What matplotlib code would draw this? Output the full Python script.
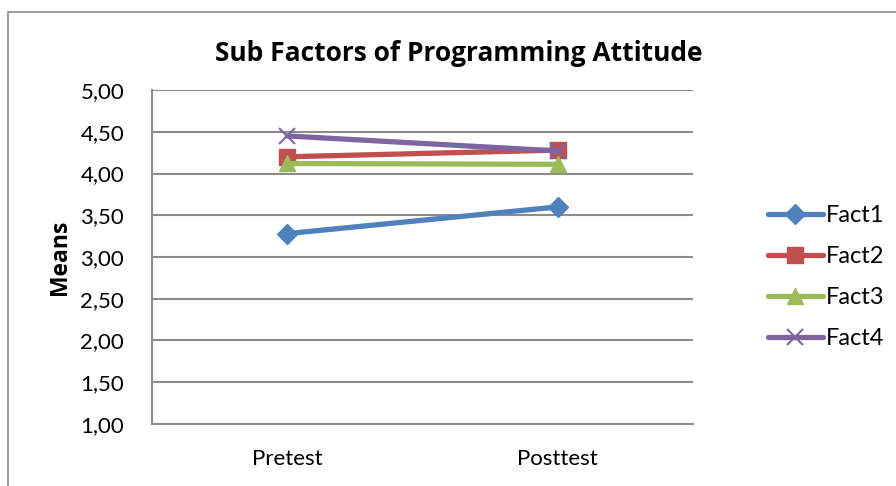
# Line chart: sub factors of programming attitude, pretest vs posttest
import matplotlib.pyplot as plt
from matplotlib.patches import Rectangle

plt.rcParams['font.family'] = ['Lato', 'DejaVu Sans']

# Data (means)
tests = ['Pretest', 'Posttest']
fact1 = [3.28, 3.60]
fact2 = [4.20, 4.28]
fact3 = [4.12, 4.11]
fact4 = [4.45, 4.27]
y_ticks = [1.0, 1.5, 2.0, 2.5, 3.0, 3.5, 4.0, 4.5, 5.0]

series = [
    ('Fact1', fact1, '#4F81BD', 'D', 10),
    ('Fact2', fact2, '#C0504D', 's', 11),
    ('Fact3', fact3, '#9BBB59', '^', 12),
    ('Fact4', fact4, '#8064A2', 'x', 12),
]

fig = plt.figure(figsize=(8.96, 4.86), dpi=100)
ax = fig.add_axes([0.1696, 0.1276, 0.6038, 0.6872])

# outer chart border (cut off at the right and bottom in the original)
fig.patches.append(Rectangle((8 / 896, -0.05), 1.0, 1 - 12 / 486 + 0.05,
                             transform=fig.transFigure, fill=False,
                             edgecolor='#8c8c8c', linewidth=1.2))

x = list(range(len(tests)))
for name, vals, color, marker, ms in series:
    mew = 1.5 if marker == 'x' else 1
    ax.plot(x, vals, color=color, linewidth=3.8, marker=marker, markersize=ms,
            markeredgewidth=mew, markeredgecolor=color, label=name,
            solid_capstyle='round')

ax.set_xlim(-0.5, 1.5)
ax.set_ylim(1.0, 5.0)
ax.set_xticks(x)
ax.set_xticklabels(tests)
ax.set_yticks(y_ticks)
ax.set_yticklabels([f'{v:.2f}'.replace('.', ',') for v in y_ticks])
ax.tick_params(axis='both', length=0, labelsize=16, colors='black')
ax.tick_params(axis='x', pad=18)
ax.tick_params(axis='y', pad=20)

ax.grid(True, axis='y', color='#8c8c8c', linewidth=1.5)
ax.set_axisbelow(True)
for side in ['top', 'right']:
    ax.spines[side].set_visible(False)
ax.spines['left'].set_color('#8c8c8c')
ax.spines['bottom'].set_color('#8c8c8c')
ax.spines['left'].set_linewidth(1.5)
ax.spines['bottom'].set_linewidth(1.5)

bold_font = ['Open Sans', 'DejaVu Sans']
ax.set_ylabel('Means', fontsize=16.5, fontweight='bold', family=bold_font,
              labelpad=6)
fig.text(0.512, 0.889, 'Sub Factors of Programming Attitude', ha='center',
         va='center', fontsize=19, fontweight='bold', family=bold_font)

leg = ax.legend(loc='center left', bbox_to_anchor=(1.1, 0.44), frameon=False,
                fontsize=17, handlelength=2.3, labelspacing=0.85,
                handletextpad=0.12)

plt.savefig('out.png', dpi=100)
